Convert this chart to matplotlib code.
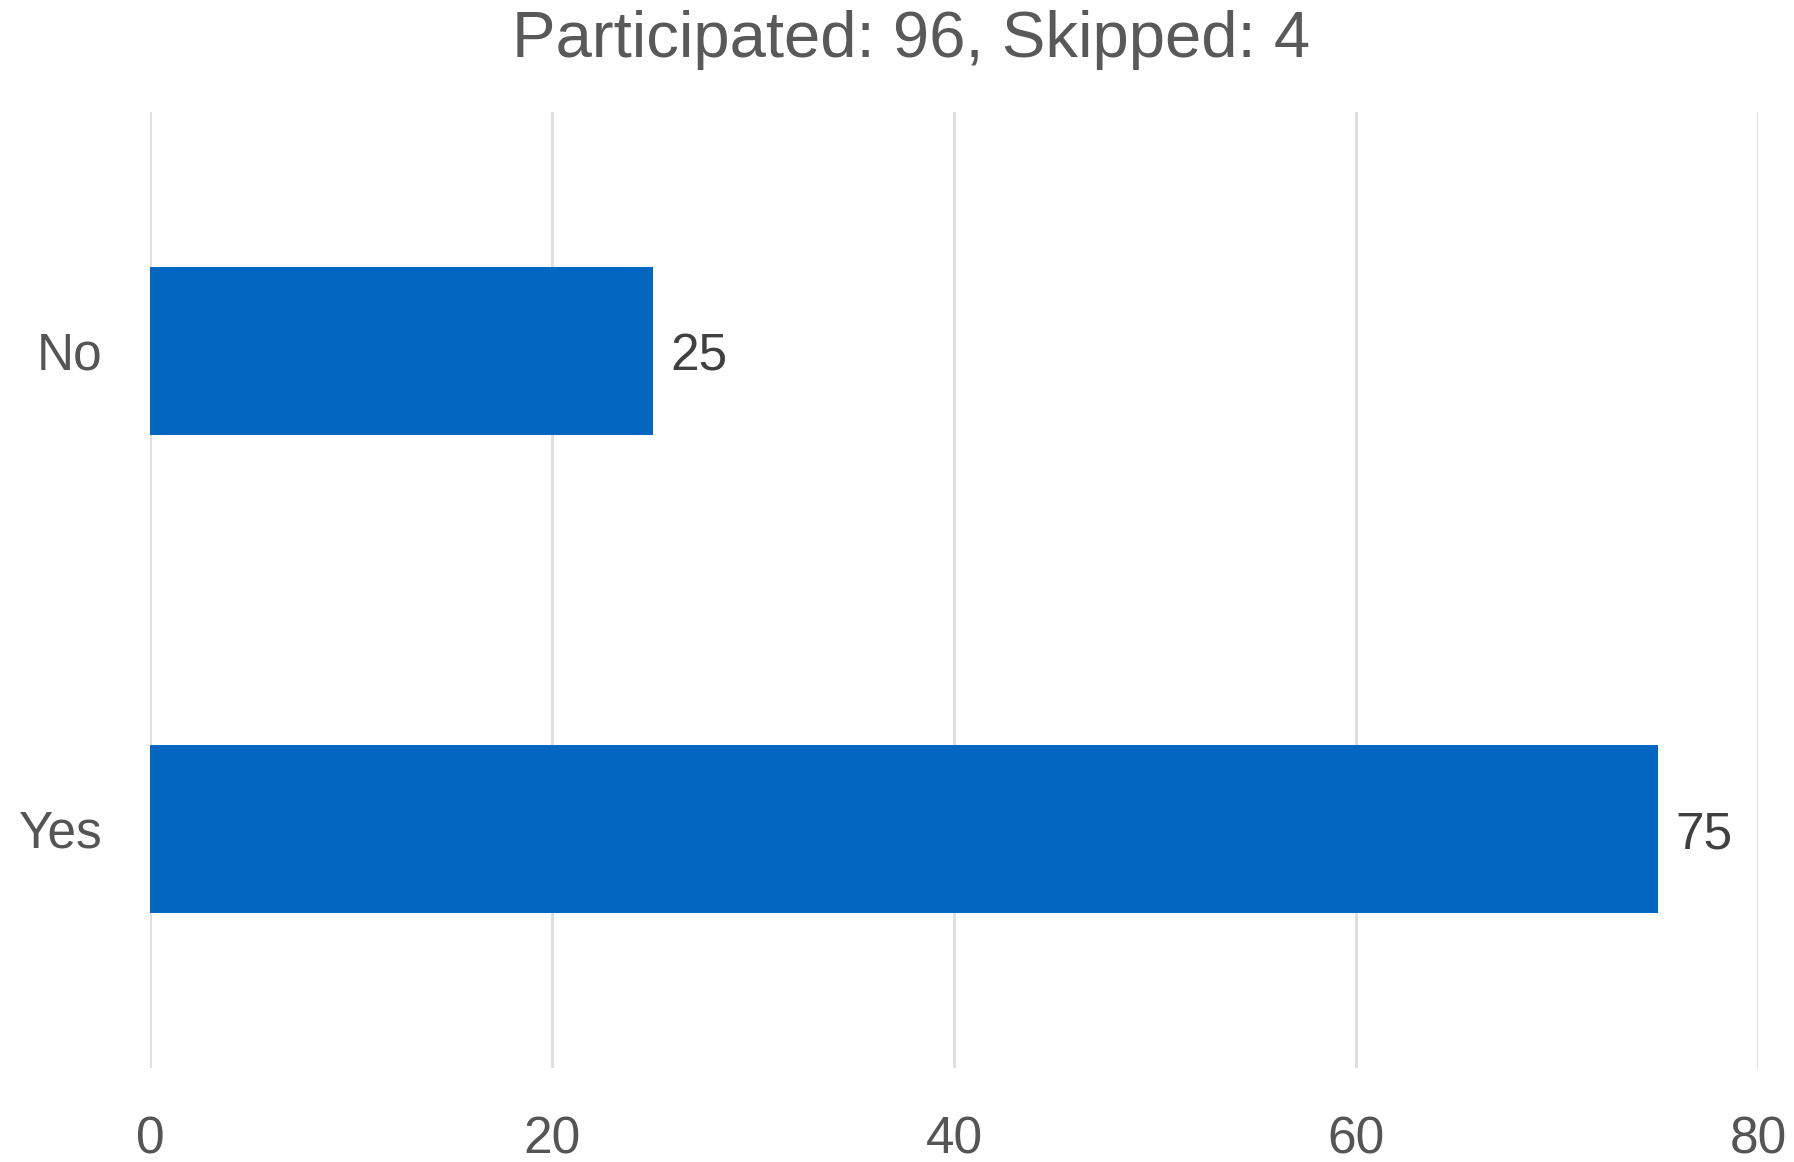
import matplotlib
matplotlib.use("Agg")
import matplotlib.pyplot as plt

categories = ["Yes", "No"]
counts = [75, 25]
title = "Participated: 96, Skipped: 4"
xticks = [0, 20, 40, 60, 80]

plt.rcParams['font.family'] = ['Liberation Sans', 'DejaVu Sans']

fig = plt.figure(figsize=(17.94, 11.62), dpi=100)
ax = fig.add_axes([150 / 1794, 1 - 1068 / 1162, (1758 - 150) / 1794, (1068 - 112) / 1162])

bars = ax.barh(range(len(categories)), counts, height=0.35, color="#0366C0")
for b, v in zip(bars, counts):
    ax.annotate(str(v), (b.get_width(), b.get_y() + b.get_height() / 2),
                xytext=(13, -4), textcoords="offset points",
                va="center", ha="left", fontsize=37, color="#404040")

ax.set_xlim(0, 80)
ax.set_ylim(-0.5, 1.5)
ax.set_xticks(xticks)
ax.set_yticks(range(len(categories)))
ax.set_yticklabels(categories)
ax.tick_params(axis="both", length=0, labelsize=37, labelcolor="#555555")
ax.tick_params(axis="x", pad=34)
ax.tick_params(axis="y", pad=34)
ax.grid(axis="x", color="#DDDDDD", linewidth=2)
ax.set_axisbelow(True)
for s in ax.spines.values():
    s.set_visible(False)

fig.text(911 / 1794, 1 - 40 / 1162, title, ha="center", va="center",
         fontsize=47, color="#595959")

fig.savefig("out.png", dpi=100)
